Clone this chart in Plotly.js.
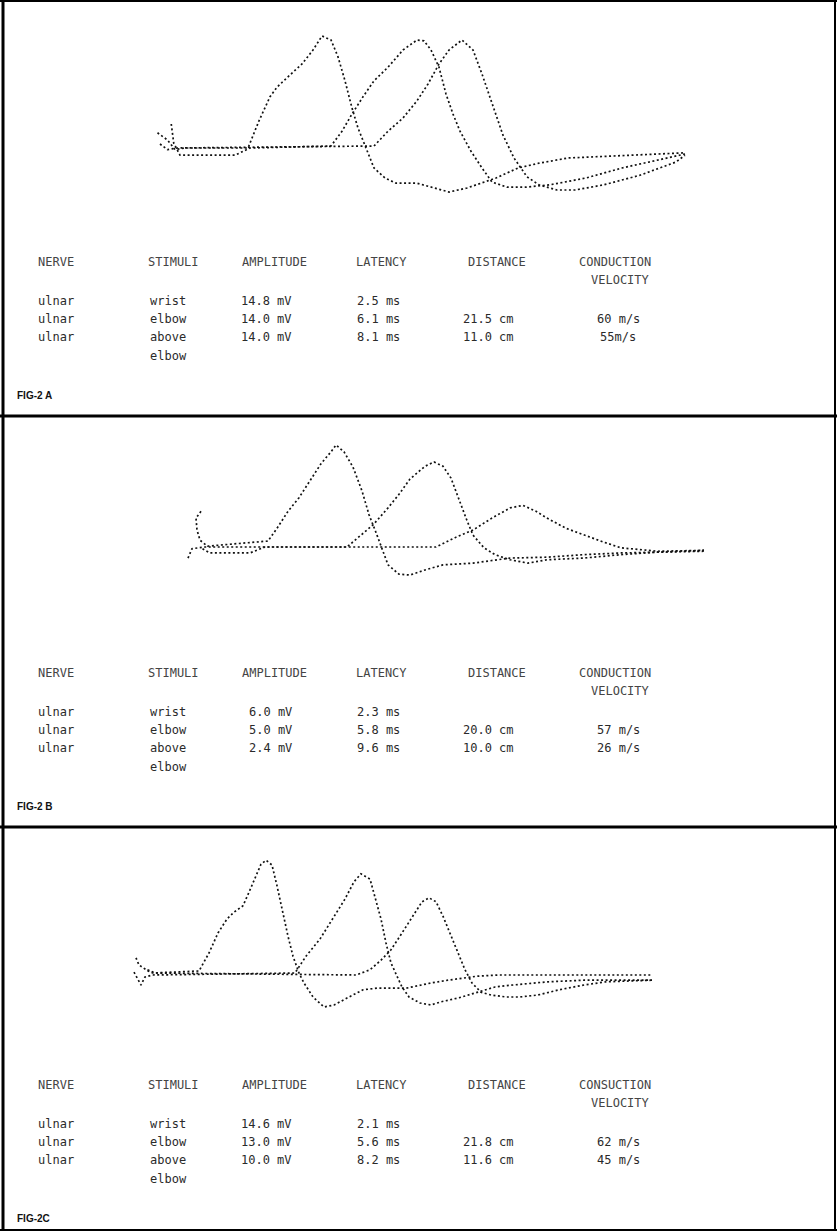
<!DOCTYPE html>
<html>
<head>
<meta charset="utf-8">
<script src="https://cdn.plot.ly/plotly-3.0.1.min.js"></script>
<style>html,body{margin:0;padding:0;background:#fff;}#chart{width:837px;height:1231px;}</style>
</head>
<body>
<div id="chart"></div>
<script>
// ---------- DATA (time in ms from stimulus, amplitude in mV) ----------
// FIG-2A
const aWristT = [-0.3,0.1,0.4,0.8,3.32,3.76,4.2,4.48,4.92,5.48,5.92,6.28,6.64,6.92,7.2,7.48,7.72,8.08,8.36,8.8,9.24,10.08,10.8,11.36,12.08,12.68,13.24,14.12,14.96,16.12,18.0,20.8];
const aWristV = [1.9,1.0,-0.2,0,0,3.4,6.4,7.6,8.9,10.5,12.25,14.0,13.5,11.4,8.4,5.0,2.5,-0.4,-2.5,-3.75,-4.4,-4.4,-5.0,-5.5,-5.0,-4.4,-3.75,-2.5,-1.9,-1.25,-1.0,-0.6];
const aElbowT = [0.25,0.3,0.35,0.6,2.8,3.4,6.64,7.08,7.48,7.92,8.36,8.92,9.52,10.08,10.36,10.64,10.96,11.24,11.52,11.8,12.24,12.68,13.08,13.68,14.4,15.4,16.84,18.28,19.72,20.8];
const aElbowV = [3.0,1.8,0.6,-0.9,-0.9,0,0.25,2.1,4.25,6.4,8.4,10.1,12.25,13.5,13.4,12.25,10.1,6.75,4.25,2.1,-0.4,-2.5,-4.25,-4.9,-4.9,-4.6,-3.75,-2.5,-1.5,-0.75];
const aAboveT = [-0.2,0.1,0.5,8.36,8.92,9.52,10.08,10.52,10.96,11.36,11.88,12.32,12.68,13.08,13.52,13.96,14.48,14.96,15.68,16.4,17.56,19.0,20.44,20.8];
const aAboveV = [0.5,-0.2,0,0.25,2.1,3.75,5.9,8.0,10.5,12.25,13.5,12.25,9.25,5.5,1.6,-1.25,-3.6,-4.6,-5.25,-5.25,-4.6,-3.4,-1.75,-0.9];

// FIG-2B
const bWristT = [0.24,0.04,0.08,0.2,0.5,2.92,3.28,3.72,4.16,4.6,5.04,5.44,5.64,5.96,6.32,6.68,6.96,7.28,7.48,7.72,8.16,8.6,9.2,9.92,11.12,12.6,14.08,15.56,17.04,18.52,20.36];
const bWristV = [2.1,1.7,1.0,0.4,0.05,0.35,1.1,2.1,2.9,3.9,4.9,5.6,6.0,5.6,4.7,3.3,1.9,0.7,-0.05,-1.05,-1.6,-1.65,-1.35,-1.05,-0.95,-0.65,-0.6,-0.45,-0.35,-0.3,-0.25];
const bElbowT = [-0.28,-0.12,0.4,6.08,6.52,7.12,7.72,8.16,8.6,9.2,9.56,9.92,10.24,10.52,10.84,11.12,11.56,12.0,12.6,13.32,14.08,15.56,17.04,18.52,20.36];
const bElbowV = [-0.65,-0.1,0,0,0.55,1.3,2.3,3.1,4.0,4.75,5.0,4.75,4.05,2.9,1.7,0.7,-0.05,-0.45,-0.75,-0.95,-0.75,-0.65,-0.45,-0.3,-0.2];
const bAboveT = [0.3,0.6,2.2,2.8,9.64,10.4,11.12,11.88,12.6,13.12,13.64,14.08,14.84,15.56,16.32,17.04,18.52,20.36];
const bAboveV = [-0.1,-0.35,-0.35,0,0,0.55,1.0,1.7,2.3,2.45,2.1,1.7,1.1,0.7,0.3,-0.05,-0.25,-0.2];

// FIG-2C
const cWristT = [-0.16,-0.04,0.3,0.5,2.36,2.76,3.12,3.48,3.76,4.12,4.36,4.64,4.84,5.04,5.28,5.48,5.68,5.92,6.12,6.36,6.56,6.92,7.36,7.76,8.36,8.92,9.48,10.64,11.64,12.32,13.48,14.32,16.32,20.48];
const cWristV = [1.9,1.0,0.3,0,0.25,2.5,5.0,6.75,7.6,8.4,10.1,12.25,13.6,14.1,13.5,10.9,8.0,4.6,2.1,0,-1.25,-3.0,-4.25,-4.0,-3.0,-2.1,-1.9,-1.9,-1.25,-0.9,-0.4,-0.25,-0.25,-0.25];
const cElbowT = [-0.24,0.04,0.2,0.5,6.2,6.64,7.2,7.76,8.2,8.56,8.84,9.2,9.4,9.64,9.84,10.04,10.28,10.48,10.76,11.2,11.64,12.04,12.76,13.48,14.2,14.92,16.32,17.76,19.2,20.48];
const cElbowV = [0.1,-1.5,-0.5,-0.25,0,2.1,4.25,7.1,9.25,11.4,12.4,11.75,9.6,6.75,3.75,1.25,-0.4,-1.75,-3.0,-3.75,-4.0,-3.6,-3.1,-2.4,-1.75,-1.5,-1.1,-0.9,-0.9,-0.9];
const cAboveT = [0.3,0.6,8.64,9.2,9.64,10.04,10.48,10.92,11.28,11.56,11.84,12.12,12.32,12.56,12.76,13.0,13.28,13.64,14.04,14.64,15.2,15.92,16.76,17.76,18.64,20.48];
const cAboveV = [0.4,0,-0.25,0.4,1.6,2.9,5.0,7.1,8.9,9.4,8.9,7.1,5.6,3.75,2.1,0.4,-1.25,-2.4,-2.75,-3.0,-3.0,-2.75,-2.1,-1.5,-1.1,-0.9];

// ---------- TABLE TEXT ----------
const headersAB = ["NERVE","STIMULI","AMPLITUDE","LATENCY","DISTANCE","CONDUCTION"];
const headersC  = ["NERVE","STIMULI","AMPLITUDE","LATENCY","DISTANCE","CONSUCTION"];
const headerLine2 = "VELOCITY";
const nerves  = ["ulnar","ulnar","ulnar"];
const stimuli = ["wrist","elbow","above"];
const stimuliExtra = "elbow";
const ampA = ["14.8 mV","14.0 mV","14.0 mV"];
const latA = ["2.5 ms","6.1 ms","8.1 ms"];
const distA = ["","21.5 cm","11.0 cm"];
const velA = ["","60 m/s","55m/s"];
const ampB = ["6.0 mV","5.0 mV","2.4 mV"];
const latB = ["2.3 ms","5.8 ms","9.6 ms"];
const distB = ["","20.0 cm","10.0 cm"];
const velB = ["","57 m/s","26 m/s"];
const ampC = ["14.6 mV","13.0 mV","10.0 mV"];
const latC = ["2.1 ms","5.6 ms","8.2 ms"];
const distC = ["","21.8 cm","11.6 cm"];
const velC = ["","62 m/s","45 m/s"];
const figLabels = ["FIG-2 A","FIG-2 B","FIG-2C"];

// ---------- LAYOUT CONSTANTS (pixels) ----------
const W = 837, H = 1231;
const PX_PER_MS = 25;
const panels = [
  {origin:165, base:148, pxPerMv:8,  top:5,   bottom:240, off:0,   traces:[[aWristT,aWristV],[aElbowT,aElbowV],[aAboveT,aAboveV]], headers:headersAB, amp:ampA, lat:latA, dist:distA, vel:velA},
  {origin:195, base:547, pxPerMv:17, top:420, bottom:650, off:411, traces:[[bWristT,bWristV],[bElbowT,bElbowV],[bAboveT,bAboveV]], headers:headersAB, amp:ampB, lat:latB, dist:distB, vel:velB},
  {origin:140, base:973, pxPerMv:8,  top:830, bottom:1060,off:823, traces:[[cWristT,cWristV],[cElbowT,cElbowV],[cAboveT,cAboveV]], headers:headersC, amp:ampC, lat:latC, dist:distC, vel:velC}
];
const px = x => x / W;
const py = y => 1 - y / H;

const data = [];
const layout = {
  width: W, height: H,
  margin: {l:0, r:0, t:0, b:0},
  paper_bgcolor: '#ffffff', plot_bgcolor: 'rgba(0,0,0,0)',
  showlegend: false,
  annotations: [], shapes: []
};

const TXT = {family:'DejaVu Sans Mono, monospace', size:12, color:'#444'};
const VAL = {family:'DejaVu Sans Mono, monospace', size:12, color:'#2a2a2a'};
const ann = (x, y, text, anchor, font) => ({xref:'paper', yref:'paper', x:px(x), y:py(y), text:text, showarrow:false, xanchor:anchor, yanchor:'middle', font:font});

panels.forEach((p, i) => {
  const n = i + 1;
  const xa = n === 1 ? 'xaxis' : 'xaxis' + n;
  const ya = n === 1 ? 'yaxis' : 'yaxis' + n;
  layout[xa] = {domain:[0,1], range:[(0 - p.origin)/PX_PER_MS, (W - p.origin)/PX_PER_MS], visible:false, fixedrange:true, anchor: n === 1 ? 'y' : 'y' + n};
  layout[ya] = {domain:[py(p.bottom), py(p.top)], range:[(p.base - p.bottom)/p.pxPerMv, (p.base - p.top)/p.pxPerMv], visible:false, fixedrange:true, anchor: n === 1 ? 'x' : 'x' + n};
  p.traces.forEach(tr => {
    data.push({
      x: tr[0], y: tr[1], type:'scatter', mode:'lines',
      xaxis: n === 1 ? 'x' : 'x' + n, yaxis: n === 1 ? 'y' : 'y' + n,
      line: {color:'#111', width:1.7, dash:'2px,2.5px'},
      hoverinfo:'skip'
    });
  });

  // table
  const o = p.off;
  const hy = 262 + o, vy = 280 + o;
  const rows = [301 + o, 319 + o, 337 + o];
  const ey = 356 + o;
  const hx = [36, 146, 240, 354, 466, 577];
  p.headers.forEach((h, k) => layout.annotations.push(ann(hx[k], hy, h, 'left', TXT)));
  layout.annotations.push(ann(620, vy, headerLine2, 'center', TXT));
  rows.forEach((ry, r) => {
    layout.annotations.push(ann(36, ry, nerves[r], 'left', VAL));
    layout.annotations.push(ann(168, ry, stimuli[r], 'center', VAL));
    layout.annotations.push(ann(294, ry, p.amp[r], 'right', VAL));
    layout.annotations.push(ann(355, ry, p.lat[r], 'left', VAL));
    if (p.dist[r]) layout.annotations.push(ann(516, ry, p.dist[r], 'right', VAL));
    if (p.vel[r]) layout.annotations.push(ann(618, ry, p.vel[r], 'center', VAL));
  });
  layout.annotations.push(ann(168, ey, stimuliExtra, 'center', VAL));
  layout.annotations.push(ann(15, 395 + o, '<b>' + figLabels[i] + '</b>', 'left', {family:'Liberation Sans, Arial, sans-serif', size:10, color:'#111'}));
});

// frame and dividers
const line = (x0, y0, x1, y1, w) => ({type:'line', xref:'paper', yref:'paper', x0:px(x0), y0:py(y0), x1:px(x1), y1:py(y1), line:{color:'#000', width:w}});
layout.shapes.push(line(3, 0, 3, H, 3));
layout.shapes.push(line(0, 1, W, 1, 2));
layout.shapes.push(line(835, 0, 835, H, 2));
layout.shapes.push(line(0, 1230, W, 1230, 2));
layout.shapes.push(line(0, 416, W, 416, 3));
layout.shapes.push(line(0, 827, W, 827, 3));

Plotly.newPlot('chart', data, layout, {staticPlot:true, displayModeBar:false});
</script>
</body>
</html>
